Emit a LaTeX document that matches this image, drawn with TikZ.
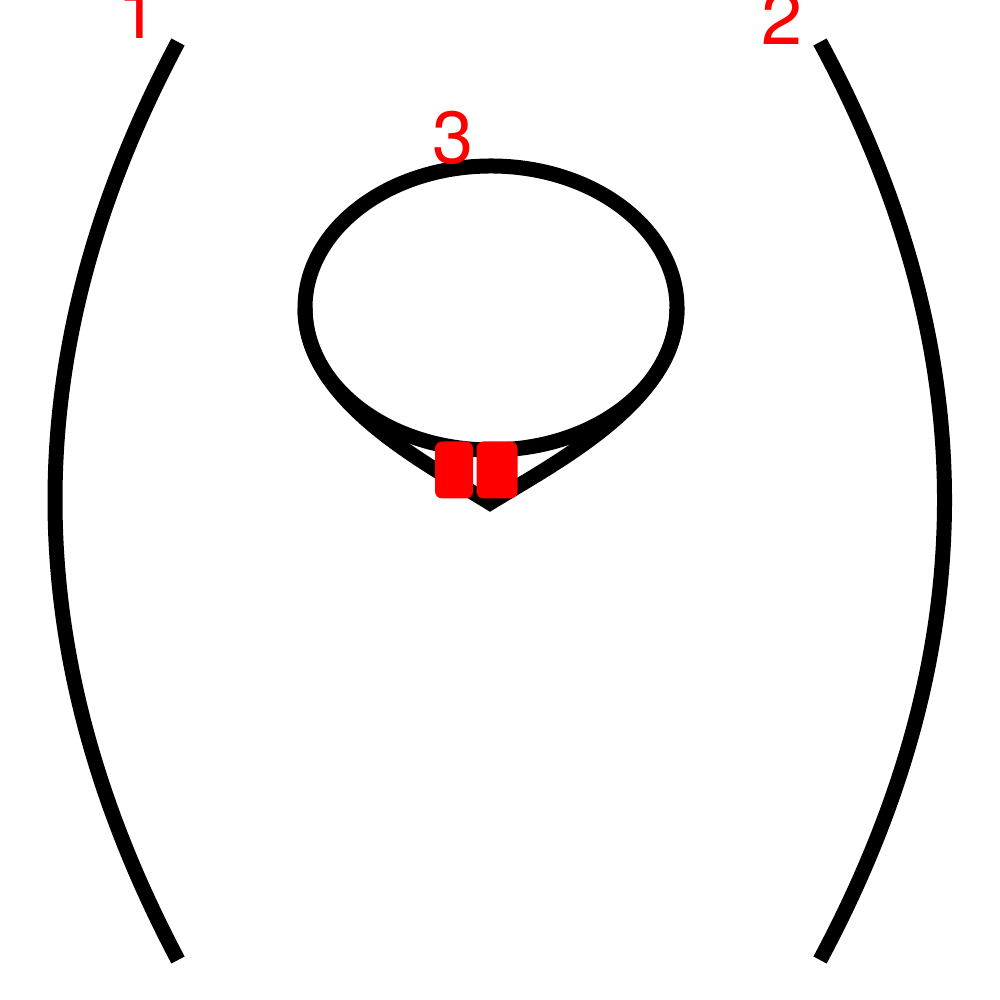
\documentclass[tikz,border=0pt]{standalone}
\usepackage{fontspec}
\setmainfont{TeX Gyre Heros}
\usetikzlibrary{calc}

\begin{document}
\begin{tikzpicture}[
      strand/.style={line width=0.15cm, draw=black},
      arclabel/.style={text=red, font=\fontsize{21}{21}\selectfont, inner sep=0pt},
      blob/.style={fill=red, rounded corners=2pt, minimum height=0.57cm, inner sep=0pt}
    ]
      \useasboundingbox (0,0) rectangle (10,10);
      % outer arcs
      \coordinate (l1) at (1.78,9.58);
      \coordinate (l2) at (1.78,0.40);
      \coordinate (r1) at (8.20,9.58);
      \coordinate (r2) at (8.20,0.40);
      \draw[strand] (l1) .. controls (0.14,6.5) and (0.14,3.5) .. (l2);
      \draw[strand] (r1) .. controls (9.86,6.5) and (9.86,3.5) .. (r2);

      % loop
      \coordinate (tip) at (4.90,4.97);
      \draw[strand] (4.91,6.92) ellipse [x radius=1.86, y radius=1.42];
      \draw[strand, line join=miter] (3.05,6.92) .. controls (3.05,6.0) and (4.2,5.4) .. (tip)
                                   .. controls (5.6,5.4) and (6.77,6.0) .. (6.77,6.92);

      % crossing marks
      \node[blob, minimum width=0.38cm] (m1) at (4.54,5.30) {};
      \node[blob, minimum width=0.41cm] (m2) at (4.97,5.30) {};

      % labels
      \node[arclabel] (lab1) at (1.38,9.88) {1};
      \node[arclabel] (lab2) at (7.82,9.82) {2};
      \node[arclabel] (lab3) at (4.53,8.62) {3};
    \end{tikzpicture}
\end{document}
